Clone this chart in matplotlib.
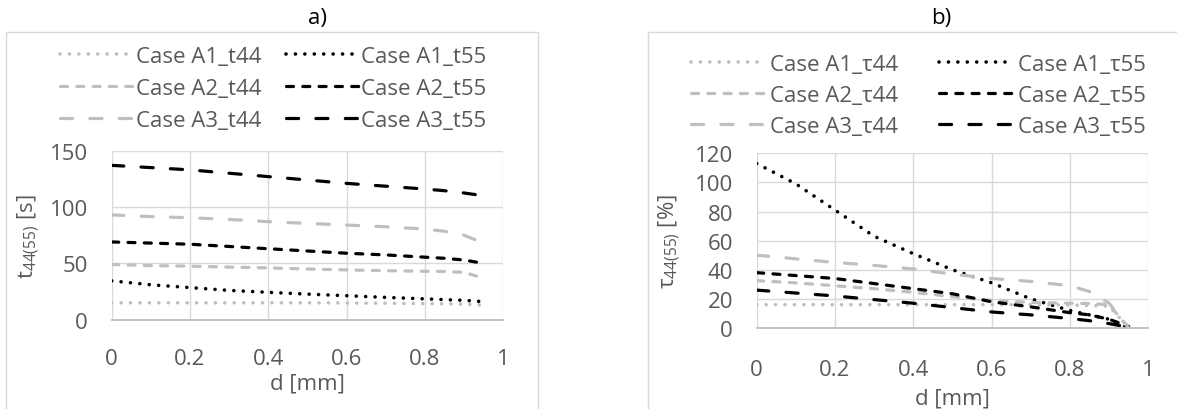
import matplotlib
matplotlib.use("Agg")
import matplotlib.pyplot as plt
from matplotlib.patches import Rectangle

plt.rcParams['font.family'] = ['Open Sans', 'DejaVu Sans']
plt.rcParams['mathtext.fontset'] = 'custom'
plt.rcParams['mathtext.rm'] = 'Open Sans'
plt.rcParams['mathtext.it'] = 'Open Sans:italic'

# depth d [mm]
d = [0, 0.1, 0.2, 0.3, 0.4, 0.5, 0.6, 0.7, 0.8, 0.85, 0.9, 0.95]

# a) t44 / t55 [s]
a1_t44 = [15, 15, 15, 15, 15, 15, 14.8, 14.6, 14.3, 14.1, 13.8, 13]
a1_t55 = [34.5, 31, 28.5, 26, 24.3, 22.7, 21.3, 19.8, 18.5, 17.8, 17.2, 16]
a2_t44 = [49, 48, 47.5, 46.7, 46, 45, 44.2, 43.5, 43, 42.8, 42, 37]
a2_t55 = [69, 68, 67, 65, 63, 61, 59, 57.5, 55.5, 54.5, 53, 50]
a3_t44 = [93, 91.5, 90.5, 89, 87, 85.5, 84, 82.5, 80.5, 78.5, 75, 68]
a3_t55 = [137, 135, 133, 130, 127, 124, 121, 118.5, 116, 114.5, 112.5, 110]

# b) tau44 / tau55 [%]
a1_tau44 = [16, 16, 16, 16, 16, 16, 16, 16, 15.8, 15.5, 15, 0]
a1_tau55 = [113, 99, 81, 63, 51, 40, 31, 20, 12, 9, 6, 0]
a2_tau44 = [32.5, 31, 29, 27, 24.5, 21.5, 19, 17.5, 17, 16.8, 16, 0]
a2_tau55 = [38, 36, 34, 30.5, 27, 23.5, 18, 14.5, 10.5, 9, 6, 1]
a3_tau44 = [50, 47.5, 45, 43, 40.5, 37, 34, 32, 29, 25, 17, 0]
a3_tau55 = [26, 24, 22, 19.5, 17, 14, 11, 9, 6.5, 5, 3, 0.5]

labels_a = ['Case A1_t44', 'Case A1_t55', 'Case A2_t44', 'Case A2_t55', 'Case A3_t44', 'Case A3_t55']
labels_b = ['Case A1_τ44', 'Case A1_τ55', 'Case A2_τ44', 'Case A2_τ55', 'Case A3_τ44', 'Case A3_τ55']

GRAY = '#BFBFBF'
TXT = '#595959'
GRID = '#D9D9D9'
FS = 16
# (colour, linewidth, dash pattern)
styles = [
	(GRAY, 2.6, (0, (0.01, 2.6))),
	('black', 2.6, (0, (0.01, 2.6))),
	(GRAY, 2.3, (0, (2.2, 2.9))),
	('black', 2.3, (0, (2.2, 2.9))),
	(GRAY, 2.3, (0, (3.8, 5.4))),
	('black', 2.3, (0, (3.8, 5.4))),
]

fig = plt.figure(figsize=(11.77, 4.10), dpi=100)

# panel frames
fig.add_artist(Rectangle((0.0048, -0.05), 0.4523, 0.9695, transform=fig.transFigure,
	fill=False, ec=GRID, lw=1, clip_on=False))
fig.add_artist(Rectangle((0.5506, -0.05), 0.5, 0.9695, transform=fig.transFigure,
	fill=False, ec=GRID, lw=1, clip_on=False))

fig.text(0.270, 0.956, 'a)', ha='center', va='center', fontsize=FS, color='black')
fig.text(0.7995, 0.956, 'b)', ha='center', va='center', fontsize=FS, color='black')


def setup(ax, ymax, ystep, ylabel, xpad, xlab_y, ylab_x):
	ax.set_xlim(0, 1)
	ax.set_ylim(0, ymax)
	ax.set_xticks([0, 0.2, 0.4, 0.6, 0.8, 1])
	ax.set_xticklabels(['0', '0.2', '0.4', '0.6', '0.8', '1'])
	ax.set_yticks(range(0, ymax + 1, ystep))
	ax.grid(True, color=GRID, lw=1)
	ax.set_axisbelow(True)
	for s in ['top', 'right', 'left']:
		ax.spines[s].set_visible(False)
	ax.spines['bottom'].set_color(GRAY)
	ax.spines['bottom'].set_linewidth(1.3)
	ax.tick_params(length=0, labelsize=FS, labelcolor=TXT)
	ax.tick_params(axis='x', pad=xpad)
	ax.tick_params(axis='y', pad=17)
	ax.set_xlabel('d [mm]', fontsize=FS, color=TXT)
	ax.xaxis.set_label_coords(0.5, xlab_y)
	ax.set_ylabel(ylabel, fontsize=FS, color=TXT)
	ax.yaxis.set_label_coords(ylab_x, 0.5)


def draw(ax, series, labels):
	lines = []
	for y, lab, (c, lw, ls) in zip(series, labels, styles):
		ln, = ax.plot(d, y, color=c, lw=lw, linestyle=ls, dash_capstyle='round', label=lab)
		lines.append(ln)
	return lines


axa = fig.add_axes([0.0949, 0.2178, 0.3325, 0.4122])
la = draw(axa, [a1_t44, a1_t55, a2_t44, a2_t55, a3_t44, a3_t55], labels_a)
setup(axa, 150, 50, r'$\mathregular{t_{44(55)}}$ [s]', 20.5, -0.31, -0.178)

axb = fig.add_axes([0.6429, 0.1976, 0.3327, 0.4261])
lb = draw(axb, [a1_tau44, a1_tau55, a2_tau44, a2_tau55, a3_tau44, a3_tau55], labels_b)
setup(axb, 120, 20, r'$\mathregular{τ_{44(55)}}$ [%]', 22, -0.338, -0.188)

order = [0, 2, 4, 1, 3, 5]
fig.legend([la[i] for i in order], [labels_a[i] for i in order], ncol=2,
	loc='center', bbox_to_anchor=(0.2324, 0.782), frameon=False, fontsize=FS,
	labelcolor=TXT, handlelength=3.3, handletextpad=0.1, columnspacing=1.1,
	labelspacing=0.5, borderpad=0)
fig.legend([lb[i] for i in order], [labels_b[i] for i in order], ncol=2,
	loc='center', bbox_to_anchor=(0.780, 0.765), frameon=False, fontsize=FS,
	labelcolor=TXT, handlelength=3.4, handletextpad=0.15, columnspacing=1.85,
	labelspacing=0.45, borderpad=0)

fig.savefig('out.png', dpi=100)
